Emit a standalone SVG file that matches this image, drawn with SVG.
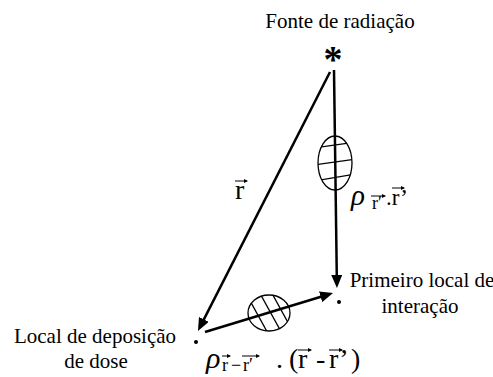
<svg xmlns="http://www.w3.org/2000/svg" width="493" height="377" viewBox="0 0 493 377">
<style>
.t{font-family:"Liberation Serif","Times New Roman","DejaVu Serif",serif;font-size:21px;fill:#000}
.m{font-family:"Liberation Serif","Times New Roman","DejaVu Serif",serif;fill:#000}
.conn{stroke:#000;stroke-width:2.5;fill:none}
.hatch{stroke:#000;stroke-width:1.3;fill:none}
.ell{stroke:#000;stroke-width:1.3;fill:none}
.ov{stroke:#000;stroke-width:1;fill:none}
</style>
<defs>
<marker id="ah" markerUnits="userSpaceOnUse" markerWidth="13" markerHeight="11" viewBox="0 0 13 11" refX="9" refY="5.5" orient="auto"><path d="M0,0 L13,5.5 L0,11 Z" fill="#000"/></marker>
<marker id="sa" markerUnits="userSpaceOnUse" markerWidth="4" markerHeight="4" viewBox="0 0 4 4" refX="3" refY="2" orient="auto"><path d="M0,0 L4,2 L0,4 Z" fill="#000"/></marker>
<clipPath id="c1"><ellipse cx="335" cy="163" rx="17" ry="27"/></clipPath>
<clipPath id="c2"><ellipse cx="269" cy="313" rx="21" ry="18"/></clipPath>
</defs>

<g id="connectors">
<line class="conn" x1="330" y1="72" x2="199.8" y2="327.4" marker-end="url(#ah)"/>
<line class="conn" x1="334" y1="70" x2="336.9" y2="284" marker-end="url(#ah)"/>
<line class="conn" x1="205" y1="332" x2="329.2" y2="294.2" marker-end="url(#ah)"/>
</g>

<g id="source">
<text class="m" x="333" y="72" font-size="38" font-weight="bold" text-anchor="middle">*</text>
<text class="t" x="340" y="28" text-anchor="middle" font-size="21.5">Fonte de radiação</text>
</g>

<g id="interaction">
<circle cx="339" cy="302" r="2" fill="#000"/>
<text class="t" x="422" y="287" text-anchor="middle">Primeiro local de</text>
<text class="t" x="420" y="313" text-anchor="middle">interação</text>
</g>

<g id="deposition">
<circle cx="196" cy="342" r="2" fill="#000"/>
<text class="t" x="95" y="343" text-anchor="middle">Local de deposição</text>
<text class="t" x="96" y="368" text-anchor="middle">de dose</text>
</g>

<g id="medium1">
<ellipse class="ell" cx="335" cy="163" rx="17" ry="27"/>
<g clip-path="url(#c1)">
<line class="hatch" x1="314" y1="148" x2="356" y2="142"/>
<line class="hatch" x1="314" y1="165" x2="356" y2="159"/>
<line class="hatch" x1="314" y1="181" x2="356" y2="174"/>
</g>
</g>

<g id="medium2">
<ellipse class="ell" cx="269" cy="313" rx="21" ry="18"/>
<g clip-path="url(#c2)">
<line class="hatch" x1="243" y1="288" x2="270" y2="337"/>
<line class="hatch" x1="257" y1="288" x2="284" y2="337"/>
<line class="hatch" x1="269" y1="288" x2="296" y2="337"/>
</g>
</g>

<g id="label-r">
<text class="m" x="235" y="199" font-size="28">r</text>
<line class="ov" x1="235" y1="181" x2="247" y2="181" marker-end="url(#sa)"/>
</g>

<g id="label-mid">
<text class="m" y="205"><tspan x="351" font-size="29" font-style="italic">ρ</tspan><tspan x="372" y="209" font-size="18">r′</tspan><tspan x="386" y="205" font-size="23">.r’</tspan></text>
<line class="ov" x1="371" y1="196" x2="385" y2="196" marker-end="url(#sa)"/>
<line class="ov" x1="392" y1="188" x2="404" y2="188" marker-end="url(#sa)"/>
</g>

<g id="label-bottom">
<text class="m" y="368"><tspan x="206" font-size="30" font-style="italic">ρ</tspan><tspan x="222" y="371" font-size="18">r</tspan><tspan x="231" y="371" font-size="18">−</tspan><tspan x="243" y="371" font-size="18">r′</tspan><tspan x="276" y="368" font-size="28">.</tspan><tspan x="289" font-size="28">(</tspan><tspan x="298" font-size="28">r</tspan><tspan x="316" font-size="28">-</tspan><tspan x="329" font-size="28">r’</tspan><tspan x="351" font-size="28">)</tspan></text>
<line class="ov" x1="222" y1="356" x2="230" y2="356" marker-end="url(#sa)"/>
<line class="ov" x1="242" y1="356" x2="259" y2="356" marker-end="url(#sa)"/>
<line class="ov" x1="298" y1="350" x2="311" y2="350" marker-end="url(#sa)"/>
<line class="ov" x1="329" y1="350" x2="342" y2="350" marker-end="url(#sa)"/>
</g>
</svg>
